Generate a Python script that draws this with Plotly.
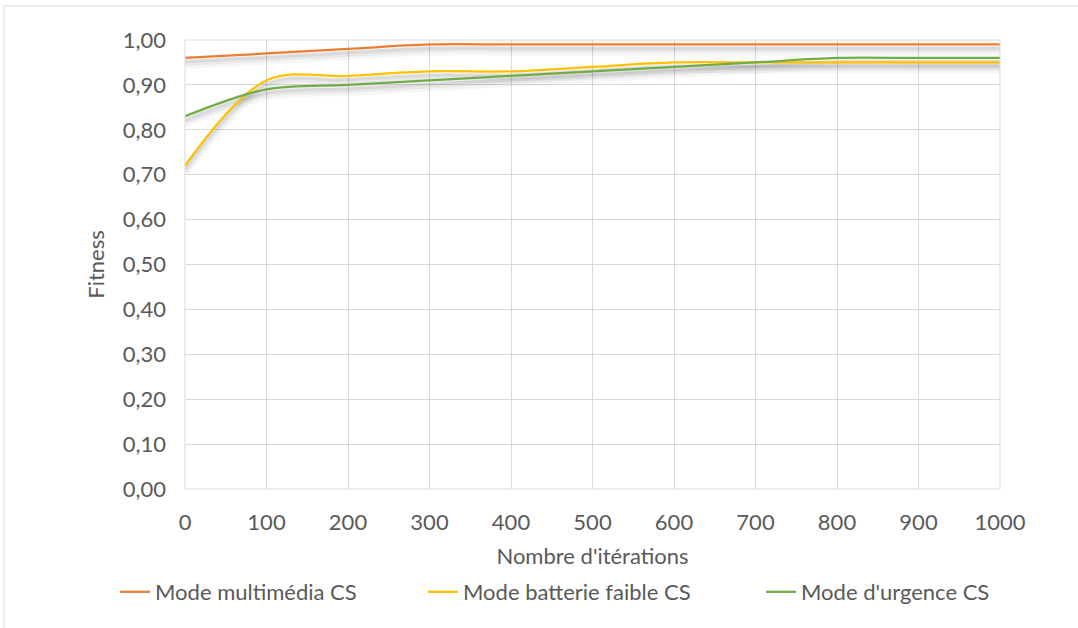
import plotly.graph_objects as go

iterations = [0, 100, 200, 300, 400, 500, 600, 700, 800, 900, 1000]
multimedia = [0.96, 0.97, 0.98, 0.99, 0.99, 0.99, 0.99, 0.99, 0.99, 0.99, 0.99]
batterie = [0.72, 0.91, 0.92, 0.93, 0.93, 0.94, 0.95, 0.95, 0.95, 0.95, 0.95]
urgence = [0.83, 0.89, 0.90, 0.91, 0.92, 0.93, 0.94, 0.95, 0.96, 0.96, 0.96]

series = [
    ("Mode multimédia CS", multimedia, "#ED7D31"),
    ("Mode batterie faible CS", batterie, "#FFC000"),
    ("Mode d'urgence CS", urgence, "#70AD47"),
]

FONT = "Lato, 'Open Sans', sans-serif"
GRAY = "#595959"
FS = 22

plot_h_px = 449.0
px_to_data = 1.0 / plot_h_px

fig = go.Figure()

# soft shadows (Excel-style) beneath each line
for name, vals, color in series:
    for dy, w, op in [(6, 10, 0.04), (5, 6, 0.05), (4, 3, 0.06)]:
        fig.add_trace(go.Scatter(
            x=iterations, y=[v - dy * px_to_data for v in vals],
            mode="lines", line=dict(color=f"rgba(0,0,0,{op})", width=w, shape="spline", smoothing=1.0),
            showlegend=False, hoverinfo="skip"))

legend_names = ["legend", "legend2", "legend3"]
for (name, vals, color), lg in zip(series, legend_names):
    fig.add_trace(go.Scatter(
        x=iterations, y=vals, mode="lines", name=name,
        line=dict(color=color, width=2.25, shape="spline", smoothing=1.0),
        legend=lg))

legend_x = [115, 423, 761]
leg_common = dict(orientation="h", xref="container", yref="container",
                  yanchor="middle", xanchor="left", y=1 - 592 / 628,
                  font=dict(family=FONT, size=FS, color=GRAY), bgcolor="rgba(0,0,0,0)")

fig.update_layout(
    width=1078, height=628,
    margin=dict(l=185, r=78, t=40, b=139, autoexpand=False),
    paper_bgcolor="white", plot_bgcolor="white",
    separators=", ",
    font=dict(family=FONT, size=FS, color=GRAY),
    legend=dict(x=legend_x[0] / 1078, **leg_common),
    legend2=dict(x=legend_x[1] / 1078, **leg_common),
    legend3=dict(x=legend_x[2] / 1078, **leg_common),
    xaxis=dict(range=[0, 1000], tickvals=iterations, showgrid=True, gridcolor="#D9D9D9",
               gridwidth=1, zeroline=False, showline=False, ticks="", ticklabelstandoff=18,
               automargin=False,
               tickfont=dict(family=FONT, size=FS, color=GRAY),
               title=dict(text="Nombre d'itérations", font=dict(family=FONT, size=FS, color=GRAY), standoff=14)),
    yaxis=dict(range=[0, 1.0], dtick=0.1, tickformat=".2f", showgrid=True, gridcolor="#D9D9D9",
               gridwidth=1, zeroline=False, showline=False, ticks="", ticklabelstandoff=18,
               automargin=False,
               tickfont=dict(family=FONT, size=FS, color=GRAY),
               title=dict(text="Fitness", font=dict(family=FONT, size=FS, color=GRAY), standoff=12)),
    shapes=[
        dict(type="line", xref="paper", yref="paper", x0=0, x1=1, y0=0, y1=0,
             line=dict(color="#D9D9D9", width=1)),
        dict(type="line", xref="paper", yref="paper", x0=0, x1=1, y0=1, y1=1,
             line=dict(color="#D9D9D9", width=1)),
        dict(type="line", xref="paper", yref="paper", x0=0, x1=0, y0=0, y1=1,
             line=dict(color="#D9D9D9", width=1)),
        dict(type="line", xref="paper", yref="paper", x0=1, x1=1, y0=0, y1=1,
             line=dict(color="#D9D9D9", width=1)),
    ],
)

# outer chart-area border (top and left edges visible)
fig.add_shape(type="rect", xref="paper", yref="paper",
              x0=-181 / 815, x1=(1078 - 185 + 5) / 815, y0=-(628 - 489 + 5) / 449, y1=1 + 34 / 449,
              line=dict(color="#D9D9D9", width=1), fillcolor="rgba(0,0,0,0)", layer="below")

fig.write_html("out.html")
